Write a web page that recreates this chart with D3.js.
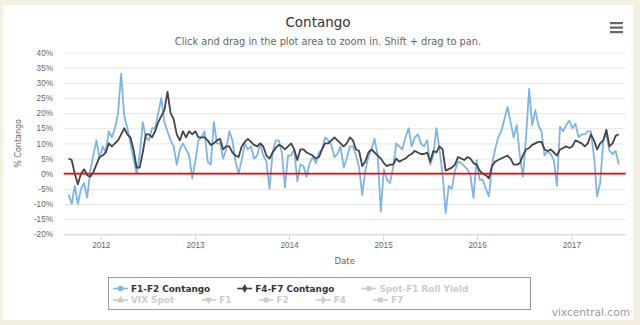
<!DOCTYPE html>
<html>
<head>
<meta charset="utf-8">
<script src="https://cdn.jsdelivr.net/npm/d3@7"></script>
<style>
  body { margin: 0; background: #f3f0e2; }
  svg { display: block; font-family: "DejaVu Sans", "Lucida Grande", sans-serif; }
</style>
</head>
<body>
<div id="container"></div>
<script>
// readings, one value every 12 days starting 2011-08-29
var startDate = "2011-08-29";
var stepDays = 12;

var f1f2 = [
  -7, -10, -4, -10, -5, -3, -8, 1, 6, 11,
  5, 9, 7, 14, 12, 15, 20, 33, 19, 15,
  10, 5, 0, 6, 17, 12, 11, 15, 15, 20,
  25, 17, 14, 11, 9, 3, 8, 10, 8, 6,
  -1.5, 4, 11, 12, 14, 4, 3, 17, 10, 10,
  5, 8, 14, 11, 4, 0, 4.5, 10, 8, 9,
  5, 6, 10, 6, 4, -5, 7, 11, 11, 7,
  -4.5, 6, 6, 8, -2.5, 3, 2.5, -1, 3.5, 5.5,
  3.5, 7, 8, 12, 11, 9.5, 5.5, 6.5, 9, 2,
  5, 9, 9, 6, 2, -7, 1, 5.5, 8, 11.5,
  6, -12.5, 1.5, -2, -3, 2, 10, 9, 8, 12,
  15, 9, 12, 13, 10, 9, 11, 3, 6, 15,
  8, 0, -13, -4, -5, 1, 4, 3.5, 2.5, 1.5,
  -0.5, -8, 4.5, -2, -2, -5, -7.5, 3, 8, 12,
  14, 18, 22, 17, 12, 16, 6, -1, 12, 28,
  16, 21, 16, 14, 6, 7.5, 6.5, 4.5, -4, 15.5,
  14, 16, 17.5, 15, 16.5, 12, 13, 13, 14, 14,
  5.5, -7.5, -3, 11, 13, 7.5, 6.5, 7.5, 3
];

var f4f7 = [
  5, 4.5, 0, -3.5, 0, 1.5, -0.5, -1, 0.5, 3,
  5.5, 6, 7, 10, 9, 10, 11, 13, 15, 13,
  12, 8, 2, 2, 7, 13, 13, 12, 14, 17,
  19, 21, 27, 20, 18, 13, 11, 14, 12, 14,
  13, 14, 12, 12, 12, 11, 9.5, 10, 11, 11.5,
  8, 9, 9, 7, 6, 5.5, 9, 10.5, 11.5, 10.5,
  9.5, 9, 10, 9, 6, 5, 7, 8.5, 9.5, 9,
  8, 9, 10, 8, 4.5, 8, 8, 7, 6.5, 6,
  5, 5.5, 8, 10, 10, 11, 12, 11, 10, 9,
  10, 12, 11, 8, 7.5, 2.5, 4, 7, 8, 7,
  6, 5, 3.5, 2.5, 3, 3, 5, 4, 4.5, 5,
  6, 6.5, 7.5, 7, 6.5, 6.5, 7, 4, 7.5, 7,
  9, 8, 1, 1.5, 2, 3, 5.5, 5, 4.5, 5.5,
  5, 3.5, 3, 1, 0, -0.5, -1.5, 2.5, 4, 4.5,
  5, 5.5, 6, 5, 3, 3, 3.5, 6, 8, 8.5,
  9.5, 10, 10.5, 10.5, 8, 7.5, 8, 7, 6, 8,
  8.5, 9, 8.5, 9, 11, 10.5, 10, 9, 10, 13,
  11, 8, 10, 11, 14.5, 9, 10, 12.5, 13
];

var yTicks = [-20, -15, -10, -5, 0, 5, 10, 15, 20, 25, 30, 35, 40];
var xTickYears = [2012, 2013, 2014, 2015, 2016, 2017];

var legendRows = [
  [
    {name: "F1-F2 Contango", color: "#7cb5ec", symbol: "circle", active: true},
    {name: "F4-F7 Contango", color: "#434348", symbol: "diamond", active: true},
    {name: "Spot-F1 Roll Yield", symbol: "square", active: false}
  ],
  [
    {name: "VIX Spot", symbol: "triangle", active: false},
    {name: "F1", symbol: "triangle-down", active: false},
    {name: "F2", symbol: "circle", active: false},
    {name: "F4", symbol: "diamond", active: false},
    {name: "F7", symbol: "square", active: false}
  ]
];

var width = 640, height = 325;
var plot = {left: 63.7, right: 625.7, top: 52.5, bottom: 234.3};

var parse = d3.timeParse("%Y-%m-%d");
var start = parse(startDate);
var dates = f1f2.map(function (v, i) { return d3.timeDay.offset(start, i * stepDays); });

var x = d3.scaleTime()
    .domain([parse("2011-08-10"), parse("2017-07-31")])
    .range([plot.left, plot.right]);

var y = d3.scaleLinear()
    .domain([-20, 40])
    .range([plot.bottom, plot.top]);

var svg = d3.select("#container").append("svg")
    .attr("width", width)
    .attr("height", height);

svg.append("rect")
    .attr("width", width).attr("height", height)
    .attr("fill", "#f3f0e2");

svg.append("rect")
    .attr("x", 3).attr("y", 5)
    .attr("width", 630).attr("height", 315)
    .attr("fill", "#ffffff");

// title + subtitle
svg.append("text")
    .attr("x", 318).attr("y", 27)
    .attr("text-anchor", "middle")
    .attr("font-size", 13.5)
    .attr("fill", "#333333")
    .text("Contango");

svg.append("text")
    .attr("x", 328).attr("y", 44.5)
    .attr("text-anchor", "middle")
    .attr("font-size", 9.8)
    .attr("fill", "#666666")
    .text("Click and drag in the plot area to zoom in. Shift + drag to pan.");

// hamburger menu
var menu = svg.append("g").attr("fill", "#666666");
[22, 26.5, 31].forEach(function (yy) {
  menu.append("rect").attr("x", 610).attr("y", yy).attr("width", 13).attr("height", 2.2);
});

// grid + y labels
var yAxis = d3.axisLeft(y)
    .tickValues(yTicks)
    .tickSize(-(plot.right - plot.left))
    .tickPadding(10)
    .tickFormat(function (d) { return d + "%"; });

var gy = svg.append("g")
    .attr("transform", "translate(" + plot.left + ",0)")
    .call(yAxis);
gy.select(".domain").remove();
gy.selectAll(".tick line").attr("stroke", "#e6e6e6");
gy.selectAll(".tick text")
    .attr("x", 53 - plot.left)
    .attr("fill", "#666666")
    .attr("font-size", 8.2)
    .attr("font-family", null);

svg.append("text")
    .attr("transform", "translate(21," + ((plot.top + plot.bottom) / 2) + ") rotate(-90)")
    .attr("text-anchor", "middle")
    .attr("font-size", 8)
    .attr("fill", "#666666")
    .text("% Contango");

// x axis
var xAxis = d3.axisBottom(x)
    .tickValues(xTickYears.map(function (yr) { return new Date(yr, 0, 1); }))
    .tickSize(6)
    .tickPadding(2)
    .tickFormat(d3.timeFormat("%Y"));

var gx = svg.append("g")
    .attr("transform", "translate(0," + plot.bottom + ")")
    .call(xAxis);
gx.select(".domain").attr("stroke", "#ccd6eb").attr("d", "M" + plot.left + ",0.5H" + plot.right);
gx.selectAll(".tick line").attr("stroke", "#ccd6eb");
gx.selectAll(".tick text")
    .attr("fill", "#666666")
    .attr("font-size", 8.2)
    .attr("font-family", null);

svg.append("text")
    .attr("x", (plot.left + plot.right) / 2).attr("y", 264)
    .attr("text-anchor", "middle")
    .attr("font-size", 8.6)
    .attr("fill", "#666666")
    .text("Date");

// series
var line = d3.line()
    .x(function (d) { return x(d[0]); })
    .y(function (d) { return y(d[1]); });

var plotArea = svg.append("g");

plotArea.append("path")
    .datum(dates.map(function (d, i) { return [d, f1f2[i]]; }))
    .attr("fill", "none")
    .attr("stroke", "#7cb5ec")
    .attr("stroke-width", 1.8)
    .attr("stroke-linejoin", "round")
    .attr("d", line);

plotArea.append("path")
    .datum(dates.map(function (d, i) { return [d, f4f7[i]]; }))
    .attr("fill", "none")
    .attr("stroke", "#434348")
    .attr("stroke-width", 1.8)
    .attr("stroke-linejoin", "round")
    .attr("d", line);

// zero plot line
svg.append("line")
    .attr("x1", plot.left).attr("x2", plot.right)
    .attr("y1", y(0)).attr("y2", y(0))
    .attr("stroke", "#ff0000")
    .attr("stroke-width", 1.8);

// legend
svg.append("rect")
    .attr("x", 108.5).attr("y", 277.5)
    .attr("width", 422).attr("height", 32)
    .attr("fill", "none")
    .attr("stroke", "#999999");

var symbolTypes = {
  "circle": d3.symbolCircle,
  "diamond": d3.symbolDiamond,
  "square": d3.symbolSquare,
  "triangle": d3.symbolTriangle,
  "triangle-down": d3.symbolTriangle
};

var rowY = [288.5, 300];
legendRows.forEach(function (row, r) {
  var cx = 113;
  row.forEach(function (item) {
    var col = item.active ? item.color : "#cccccc";
    var g = svg.append("g").attr("transform", "translate(" + cx + "," + rowY[r] + ")");
    g.append("line")
        .attr("x1", 0).attr("x2", 15)
        .attr("stroke", col).attr("stroke-width", 1.6);
    g.append("path")
        .attr("transform", "translate(7.5,0)" + (item.symbol == "triangle-down" ? " rotate(180)" : ""))
        .attr("d", d3.symbol().type(symbolTypes[item.symbol]).size(item.symbol == "square" ? 24 : 24)())
        .attr("fill", col);
    var t = g.append("text")
        .attr("x", 18).attr("y", 3.2)
        .attr("font-size", 8.9)
        .attr("font-weight", "bold")
        .attr("fill", item.active ? "#333333" : "#cccccc")
        .text(item.name);
    cx += 18 + t.node().getComputedTextLength() + 27;
  });
});

// credits
svg.append("text")
    .attr("x", 630).attr("y", 316)
    .attr("text-anchor", "end")
    .attr("font-size", 10.6)
    .attr("fill", "#999999")
    .text("vixcentral.com");
</script>
</body>
</html>
